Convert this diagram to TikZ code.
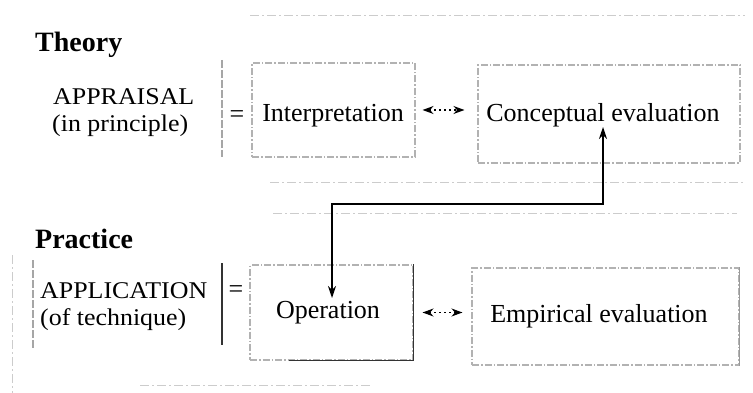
\documentclass[tikz,border=0pt]{standalone}
\usepackage{fontspec}
\setmainfont{Liberation Serif}
\newfontfamily\labfont[FakeStretch=1.08]{Liberation Serif}
\usetikzlibrary{arrows.meta}
\begin{document}
\begin{tikzpicture}[x=1pt,y=-1pt,
  box/.style={draw=gray!60, line width=1.1pt, dash pattern=on 7pt off 2pt on 1.5pt off 2pt, rectangle, inner sep=0pt},
  faint/.style={draw=gray!40, line width=0.9pt, dash pattern=on 9pt off 3pt on 2pt off 3pt},
  bar/.style={draw=gray!70, line width=1.1pt, dash pattern=on 8pt off 2pt},
  conn/.style={draw=black, line width=1.3pt, {Stealth[length=12pt,width=8pt]}-{Stealth[length=12pt,width=8pt]}},
  dbl/.style={draw=black, line width=1.2pt, dash pattern=on 2pt off 3pt, {Stealth[length=11pt,width=8pt]}-{Stealth[length=11pt,width=8pt]}},
  txt/.style={font=\fontsize{26}{30}\selectfont, inner sep=0pt, anchor=base},
  lab/.style={font=\labfont\fontsize{24}{28}\selectfont, inner sep=0pt, anchor=base west},
  head/.style={font=\fontsize{28}{32}\selectfont\bfseries, inner sep=0pt, anchor=base west}]
\useasboundingbox (0,0) rectangle (753,393);

% faint group lines
\draw[faint] (250,15) -- (745,15);
\draw[faint] (270,182) -- (745,182);
\draw[faint] (273,213) -- (737,213);
\draw[faint] (140,385) -- (370,385);

% headings and left labels
\node[head] (theory) at (35,52) {Theory};
\node[lab] (appraisal) at (53,105) {APPRAISAL};
\node[lab] (principle) at (52,132) {(in principle)};
\node[head] (practice) at (35,248) {Practice};
\node[lab] (application) at (40,298) {APPLICATION};
\node[lab] (technique) at (40,325) {(of technique)};

% bars and equals signs
\draw[bar] (222,60) -- (222,157);
\node[font=\fontsize{26}{30}\selectfont, inner sep=0pt] (eq1) at (237,117) {=};
\draw[bar] (33,260) -- (33,348);
\draw[faint] (12,255) -- (12,393);
\draw[black!80, line width=1.2pt] (222,263) -- (222,345);
\node[font=\fontsize{26}{30}\selectfont, inner sep=0pt] (eq2) at (236,292) {=};

% boxes
\node[box, minimum width=163pt, minimum height=94pt] (interp) at (333.5,110) {};
\node[box, minimum width=262pt, minimum height=98pt] (concept) at (609,114) {};
\node[box, minimum width=163pt, minimum height=95pt] (oper) at (331.5,312.5) {};
\node[box, minimum width=267pt, minimum height=97pt] (emp) at (605.5,316.5) {};
\draw[black!80, line width=1.2pt] (oper.north east) -- (oper.south east) -- ([xshift=40pt]oper.south west);
\draw[gray!80, line width=1.2pt] (emp.north east) -- (emp.south east);

% box texts
\node[txt] (tinterp) at (333,122) {Interpretation};
\node[txt] (tconcept) at (603,122) {Conceptual evaluation};
\node[txt] (toper) at (328,318) {Operation};
\node[txt] (temp) at (599,322) {Empirical evaluation};

% dotted double arrows
\draw[dbl, shorten <=7pt, shorten >=13pt] (interp.east) -- (concept.west |- interp.east);
\draw[dbl, shorten <=9pt, shorten >=9pt] (oper.east) -- (emp.west |- oper.east);

% elbow connector
\coordinate (ctip) at (603,127);
\coordinate (otip) at (332,298);
\coordinate (knee) at (332,204);
\draw[conn] (ctip) -- (ctip |- knee) -- (knee) -- (otip);
\end{tikzpicture}
\end{document}
